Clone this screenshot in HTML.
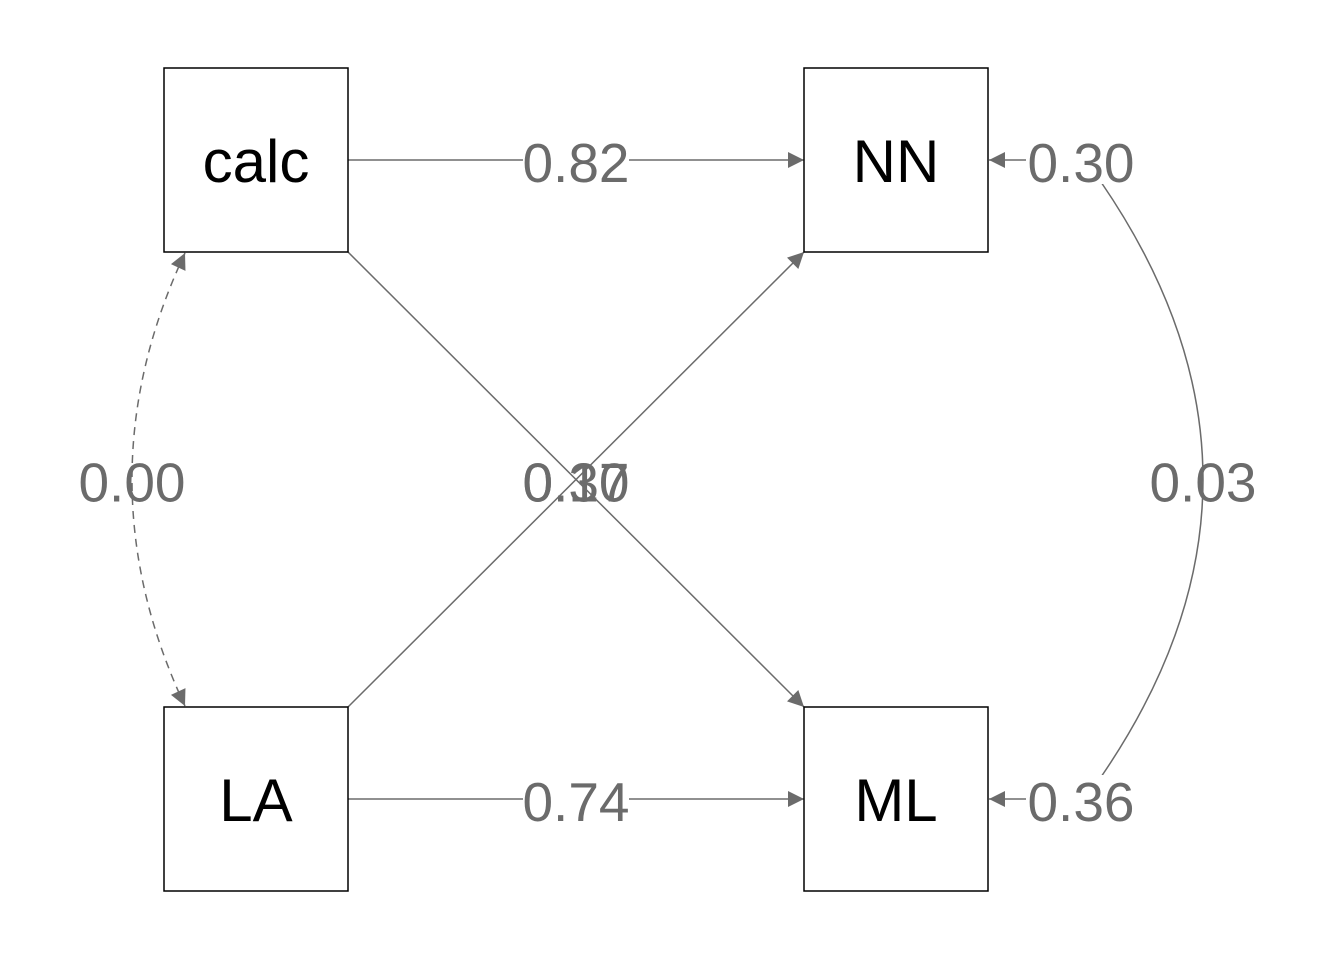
<!DOCTYPE html>
<html><head><meta charset="utf-8"><style>
html,body{margin:0;padding:0;background:#fff;}
svg{display:block;font-family:"Liberation Sans",sans-serif;}
</style></head><body>
<svg id="chart" width="1344" height="960" viewBox="0 0 1344 960">
<defs><marker id="ah" viewBox="0 0 10 10" refX="10" refY="5" markerWidth="20" markerHeight="16" markerUnits="userSpaceOnUse" orient="auto-start-reverse"><path d="M0,0L10,5L0,10z" fill="#6b6b6b"/></marker></defs>
<g id="edges"></g><g id="nodes"></g><g id="labels"></g>
</svg>
<script>
const nodeNames=["calc","NN","LA","ML"];
const nodeX=[256,896,256,896];
const nodeY=[160,160,799,799];
const edgeFrom=["calc","LA","calc","LA"];
const edgeTo=["NN","ML","ML","NN"];
const edgeValues=["0.82","0.74","0.37","0.10"];
const residualNodes=["NN","ML"];
const residualValues=["0.30","0.36"];
const covPairs=[["calc","LA","0.00",-1,true],["NN","ML","0.03",1,false]];
const NS="http://www.w3.org/2000/svg";
const H=92;
const E=document.getElementById('edges'),N=document.getElementById('nodes'),L=document.getElementById('labels');
function mk(t,a,p){const e=document.createElementNS(NS,t);for(const k in a)e.setAttribute(k,a[k]);p.appendChild(e);return e;}
function pos(n){const i=nodeNames.indexOf(n);return [nodeX[i],nodeY[i]];}
function label(x,y,txt,bg,name){
  if(bg){const r=mk('rect',{x:x-53,y:y-24,width:106,height:48,fill:'#fff'},L);
  
  }
  const t=mk('text',{x:x,y:y+22,'text-anchor':'middle','font-size':55,fill:'#6b6b6b'},L);t.textContent=txt;
  
  
}
nodeNames.forEach((n,i)=>{
  const r=mk('rect',{x:nodeX[i]-H,y:nodeY[i]-H,width:2*H,height:2*H,fill:'#fff',stroke:'#000','stroke-width':1.5},N);
  
  
  const t=mk('text',{x:nodeX[i],y:nodeY[i]+22,'text-anchor':'middle','font-size':60,fill:'#000'},N);t.textContent=n;
  
  
});
edgeFrom.forEach((f,i)=>{
  const [x1,y1]=pos(f),[x2,y2]=pos(edgeTo[i]);
  let sx,sy,ex,ey;
  if(y1===y2){sx=x1+H;sy=y1;ex=x2-H;ey=y2;}
  else{sx=x1+H;sy=y1+(y2>y1?H:-H);ex=x2-H;ey=y2+(y2>y1?-H:H);}
  const l=mk('line',{x1:sx,y1:sy,x2:ex,y2:ey,stroke:'#6b6b6b','stroke-width':1.5,'marker-end':'url(#ah)'},E);
  
  
  label((sx+ex)/2,(sy+ey)/2,edgeValues[i],y1===y2,'coef-'+f.toLowerCase()+'-'+edgeTo[i].toLowerCase());
});
residualNodes.forEach((n,i)=>{
  const [x,y]=pos(n);
  const l=mk('line',{x1:x+H+38,y1:y,x2:x+H+1,y2:y,stroke:'#6b6b6b','stroke-width':1.5,'marker-end':'url(#ah)'},E);
  
  
  label(x+H+93,y,residualValues[i],true,'residual-'+n.toLowerCase());
});
covPairs.forEach(([a,b,v,side,dash])=>{
  const [x1,y1]=pos(a),[x2,y2]=pos(b);
  let sx,sy,ex,ey,mx;
  if(dash){sx=x1-71;sy=y1+H+1;ex=x2-71;ey=y2-H-1;mx=132;}
  else{sx=x1+H+113;sy=y1+22;ex=x2+H+113;ey=y2-22;mx=1203;}
  const my=(sy+ey)/2,cx=2*mx-sx;
  const p=mk('path',{d:`M${sx},${sy}Q${cx},${my} ${ex},${ey}`,fill:'none',stroke:'#6b6b6b','stroke-width':1.5},E);
  if(dash){p.setAttribute('stroke-dasharray','8 6');p.setAttribute('marker-start','url(#ah)');p.setAttribute('marker-end','url(#ah)');}
  
  
  label(mx,my,v,false,'cov-label-'+a.toLowerCase()+'-'+b.toLowerCase());
});
</script>
</body></html>
